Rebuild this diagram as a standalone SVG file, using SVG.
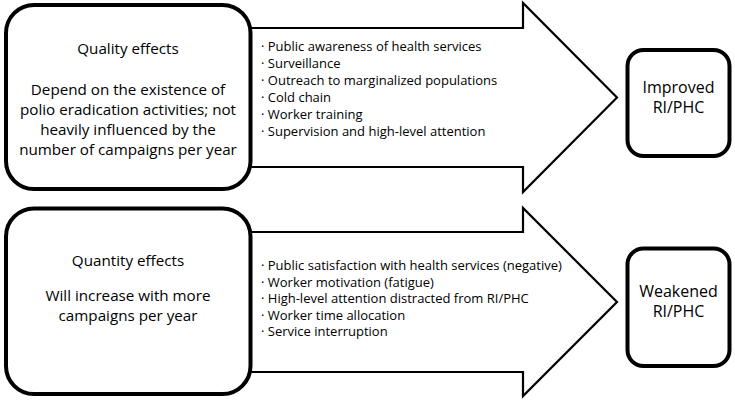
<svg xmlns="http://www.w3.org/2000/svg" width="735" height="403" viewBox="0 0 735 403">
<style>
  .arrow { fill: #ffffff; stroke: #000000; stroke-width: 2.2; stroke-linejoin: miter; }
  .big { fill: #ffffff; stroke: #000000; stroke-width: 4; }
  .small { fill: #ffffff; stroke: #000000; stroke-width: 4; }
  text { font-family: "Open Sans", "Liberation Sans", sans-serif; fill: #000000; }
  .t { font-size: 15.2px; text-anchor: middle; }
  .b { font-size: 13px; }
  .r { font-size: 16px; text-anchor: middle; }
</style>
<rect width="735" height="403" fill="#ffffff"/>
<g id="connectors">
  <polygon id="arrow-quality" class="arrow" points="240,28 523,28 523,3 617,97.5 523,192 523,167 240,167"/>
  <polygon id="arrow-quantity" class="arrow" points="240,232 523,232 523,208 617,302 523,396 523,372 240,372"/>
</g>
<g id="quality-box">
  <rect class="big" x="6" y="5" width="244.5" height="184" rx="28"/>
  <text class="t" x="128" y="54">Quality effects</text>
  <text class="t" x="128" y="94.5">Depend on the existence of</text>
  <text class="t" x="128" y="114.5">polio eradication activities; not</text>
  <text class="t" x="128" y="134.5">heavily influenced by the</text>
  <text class="t" x="128" y="154.5">number of campaigns per year</text>
</g>
<g id="quality-list">
  <text class="b" x="261" y="51">· Public awareness of health services</text>
  <text class="b" x="261" y="68">· Surveillance</text>
  <text class="b" x="261" y="85">· Outreach to marginalized populations</text>
  <text class="b" x="261" y="102">· Cold chain</text>
  <text class="b" x="261" y="119">· Worker training</text>
  <text class="b" x="261" y="136">· Supervision and high-level attention</text>
</g>
<g id="improved-box">
  <rect class="small" x="627.5" y="50" width="102" height="106" rx="16"/>
  <text class="r" x="678.5" y="93">Improved</text>
  <text class="r" x="678.5" y="113">RI/PHC</text>
</g>
<g id="quantity-box">
  <rect class="big" x="6" y="208.5" width="244.5" height="185.5" rx="28"/>
  <text class="t" x="128" y="266">Quantity effects</text>
  <text class="t" x="128" y="300.5">Will increase with more</text>
  <text class="t" x="128" y="320.5">campaigns per year</text>
</g>
<g id="quantity-list">
  <text class="b" x="261" y="270">· Public satisfaction with health services (negative)</text>
  <text class="b" x="261" y="286.5">· Worker motivation (fatigue)</text>
  <text class="b" x="261" y="303">· High-level attention distracted from RI/PHC</text>
  <text class="b" x="261" y="319.5">· Worker time allocation</text>
  <text class="b" x="261" y="336">· Service interruption</text>
</g>
<g id="weakened-box">
  <rect class="small" x="627.5" y="248.5" width="102" height="117.5" rx="16"/>
  <text class="r" x="678.5" y="297">Weakened</text>
  <text class="r" x="678.5" y="317">RI/PHC</text>
</g>
</svg>
